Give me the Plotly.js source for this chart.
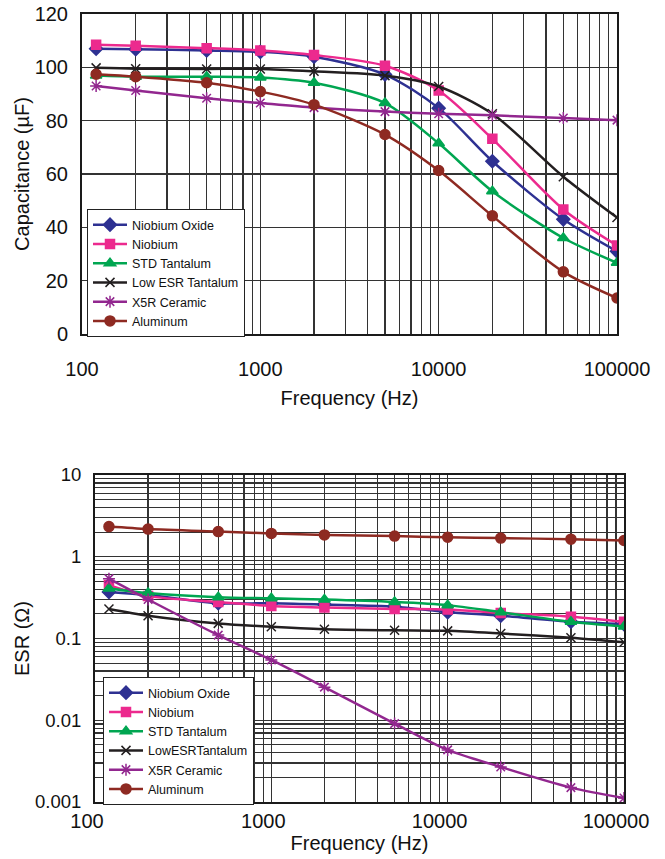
<!DOCTYPE html>
<html>
<head>
<meta charset="utf-8">
<script src="https://cdn.plot.ly/plotly-3.0.1.min.js"></script>
<style>
  html, body { margin: 0; padding: 0; background: #ffffff; }
  #chart { width: 665px; height: 859px; }
</style>
</head>
<body>
<div id="chart"></div>
<script>
// ---------------- DATA ----------------
const freq = [120, 200, 500, 1000, 2000, 5000, 10000, 20000, 50000, 100000];

const capNames = ['Niobium Oxide', 'Niobium', 'STD Tantalum', 'Low ESR Tantalum', 'X5R Ceramic', 'Aluminum'];
const esrNames = ['Niobium Oxide', 'Niobium', 'STD Tantalum', 'LowESRTantalum', 'X5R Ceramic', 'Aluminum'];

// Capacitance (uF)
const capNiobiumOxide = [107, 106.8, 106.3, 105.8, 104, 97.3, 84.7, 64.8, 43, 31];
const capNiobium      = [108.5, 108.1, 107.2, 106.3, 104.6, 100.6, 91.3, 73.2, 46.7, 33.2];
const capStdTantalum  = [96.9, 96.5, 96.5, 96.2, 94.2, 86.6, 71.5, 53.5, 36, 26.7];
const capLowEsrTa     = [99.8, 99.5, 99.4, 99.4, 98.5, 96.9, 92.8, 82.6, 59, 43.7];
const capX5R          = [93, 91.3, 88.4, 86.6, 84.9, 83.4, 82.6, 82, 81, 80.2];
const capAluminum     = [97.4, 96.5, 94.2, 90.9, 86, 74.8, 61.3, 44.3, 23.3, 13.5];

// ESR (Ohm)
const esrNiobiumOxide = [0.37, 0.34, 0.27, 0.27, 0.26, 0.245, 0.21, 0.19, 0.16, 0.15];
const esrNiobium      = [0.45, 0.33, 0.28, 0.25, 0.24, 0.23, 0.226, 0.205, 0.185, 0.16];
const esrStdTantalum  = [0.41, 0.36, 0.32, 0.31, 0.30, 0.28, 0.256, 0.21, 0.16, 0.14];
const esrLowEsrTa     = [0.23, 0.19, 0.153, 0.139, 0.13, 0.126, 0.124, 0.115, 0.102, 0.09];
const esrX5R          = [0.54, 0.30, 0.11, 0.0546, 0.0254, 0.0091, 0.00434, 0.00268, 0.0015, 0.00112];
const esrAluminum     = [2.34, 2.18, 2.03, 1.93, 1.85, 1.79, 1.73, 1.69, 1.64, 1.58];

// Tick labels
const freqTickVals = [100, 1000, 10000, 100000];
const freqTickText = ['100', '1000', '10000', '100000'];
const capTickVals = [0, 20, 40, 60, 80, 100, 120];
const capTickText = ['0', '20', '40', '60', '80', '100', '120'];
const esrTickVals = [0.001, 0.01, 0.1, 1, 10];
const esrTickText = ['0.001', '0.01', '0.1', '1', '10'];

// ---------------- STYLES ----------------
const FONT = 'Liberation Sans, Arial, Helvetica, sans-serif';
const styles = [
  {color: '#2e3192', symbol: 'diamond', size: 10},
  {color: '#ec2a8e', symbol: 'square', size: 9},
  {color: '#00a651', symbol: 'triangle-up', size: 10},
  {color: '#231f20', symbol: 'x-thin-open', size: 9},
  {color: '#92278f', symbol: 'asterisk-open', size: 10},
  {color: '#8e2a22', symbol: 'circle', size: 10}
];

function minorVals(decades) {
  const out = [];
  decades.forEach(d => { for (let k = 2; k <= 9; k++) out.push(d * k); });
  return out;
}

const capSeries = [capNiobiumOxide, capNiobium, capStdTantalum, capLowEsrTa, capX5R, capAluminum];
const esrSeries = [esrNiobiumOxide, esrNiobium, esrStdTantalum, esrLowEsrTa, esrX5R, esrAluminum];

const traces = [];
capSeries.forEach((ys, i) => {
  const st = styles[i];
  traces.push({
    x: freq, y: ys, name: capNames[i], type: 'scatter', mode: 'lines+markers',
    xaxis: 'x', yaxis: 'y', legend: 'legend',
    line: {color: st.color, width: 2.5, shape: 'spline', smoothing: 0.8},
    marker: {color: st.color, symbol: st.symbol, size: st.size, line: {color: st.color, width: 1.5}}
  });
});
esrSeries.forEach((ys, i) => {
  const st = styles[i];
  traces.push({
    x: freq, y: ys, name: esrNames[i], type: 'scatter', mode: 'lines+markers',
    xaxis: 'x2', yaxis: 'y2', legend: 'legend2',
    line: {color: st.color, width: 2.5, shape: 'spline', smoothing: 0.8},
    marker: {color: st.color, symbol: st.symbol, size: st.size, line: {color: st.color, width: 1.5}}
  });
});

const gridColor = '#333333';
const frame = {showline: true, mirror: true, linewidth: 2, linecolor: '#1a1a1a', zeroline: false, automargin: false, ticks: ''};

const legendBase = {
  bgcolor: '#ffffff', bordercolor: '#222222', borderwidth: 1,
  font: {family: FONT, size: 12.5, color: '#111111'},
  xanchor: 'left', yanchor: 'top', itemwidth: 34, tracegroupgap: 0
};

const layout = {
  width: 665, height: 859, autosize: false,
  margin: {l: 0, r: 0, t: 0, b: 0},
  paper_bgcolor: '#ffffff', plot_bgcolor: '#ffffff',
  font: {family: FONT, color: '#111111'},
  showlegend: true,
  xaxis: Object.assign({}, frame, {
    type: 'log', range: [2, 5], domain: [82/665, 617/665], anchor: 'y',
    tickvals: freqTickVals, ticktext: freqTickText,
    tickfont: {family: FONT, size: 20, color: '#111111'},
    ticklabelstandoff: 16,
    showgrid: true, gridcolor: gridColor, gridwidth: 1.2,
    minor: {tickvals: minorVals([100, 1000, 10000]), showgrid: true, gridcolor: gridColor, gridwidth: 1.2, ticks: ''},
    title: {text: 'Frequency (Hz)', font: {family: FONT, size: 20, color: '#111111'}, standoff: 12}
  }),
  yaxis: Object.assign({}, frame, {
    range: [0, 120], domain: [(859-334)/859, (859-14)/859], anchor: 'x',
    tickvals: capTickVals, ticktext: capTickText,
    tickfont: {family: FONT, size: 20, color: '#111111'},
    ticklabelstandoff: 8,
    showgrid: true, gridcolor: gridColor, gridwidth: 1.2,
    title: {text: 'Capacitance (µF)', font: {family: FONT, size: 20, color: '#111111'}, standoff: 0}
  }),
  xaxis2: Object.assign({}, frame, {
    type: 'log', range: [2, 5], domain: [95/665, 624/665], anchor: 'y2',
    tickvals: freqTickVals, ticktext: freqTickText,
    tickfont: {family: FONT, size: 20, color: '#111111'},
    ticklabelshift: -8,
    showgrid: true, gridcolor: gridColor, gridwidth: 1.2,
    minor: {tickvals: minorVals([100, 1000, 10000]), showgrid: true, gridcolor: gridColor, gridwidth: 1.2, ticks: ''},
    title: {text: 'Frequency (Hz)', font: {family: FONT, size: 20, color: '#111111'}, standoff: 4}
  }),
  yaxis2: Object.assign({}, frame, {
    type: 'log', range: [-3, 1], domain: [(859-802)/859, (859-475)/859], anchor: 'x2',
    tickvals: esrTickVals, ticktext: esrTickText,
    tickfont: {family: FONT, size: 18.5, color: '#111111'},
    ticklabelstandoff: 8,
    showgrid: true, gridcolor: gridColor, gridwidth: 1.2,
    minor: {tickvals: minorVals([0.001, 0.01, 0.1, 1]), showgrid: true, gridcolor: gridColor, gridwidth: 1.2, ticks: ''},
    title: {text: 'ESR (Ω)', font: {family: FONT, size: 20, color: '#111111'}, standoff: 0}
  }),
  legend: Object.assign({}, legendBase, {x: 87/665, y: (859-209)/859}),
  legend2: Object.assign({}, legendBase, {x: 103/665, y: (859-677)/859})
};

Plotly.newPlot('chart', traces, layout, {staticPlot: true, displayModeBar: false});
</script>
</body>
</html>
